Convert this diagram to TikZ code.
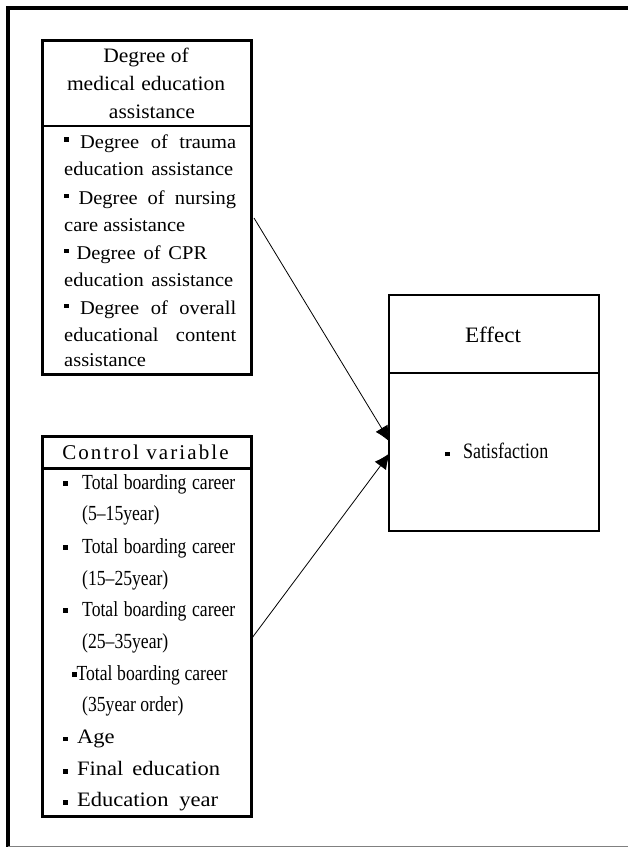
\documentclass[tikz,border=0pt]{standalone}
\usepackage{fontspec}
\setmainfont{Liberation Serif}
\newfontfamily\condfont[FakeStretch=0.82]{Liberation Serif}
\newfontfamily\wideA[FakeStretch=1.05]{Liberation Serif}
\newfontfamily\wideB[FakeStretch=1.1]{Liberation Serif}
\newfontfamily\spacedfont[LetterSpace=10]{Liberation Serif}
\usetikzlibrary{arrows.meta}
\newcommand\bul[1]{\rule[#1]{4.4pt}{4.4pt}}
\newcommand\J[2]{\makebox[#1pt][s]{#2}}
\tikzset{
  txt/.style={anchor=base west, inner sep=0pt, font=\fontsize{19.5}{24}\selectfont\wideA},
  hdr/.style={anchor=base, inner sep=0pt, font=\fontsize{20.5}{26}\selectfont\wideA},
  ctxt/.style={anchor=base west, inner sep=0pt, font=\fontsize{21.5}{26}\selectfont\condfont},
  ntxt/.style={anchor=base west, inner sep=0pt, font=\fontsize{20.5}{26}\selectfont\wideB},
  box/.style={draw, line width=3pt, inner sep=0pt, anchor=north west},
  arr/.style={line width=0.8pt, -{Latex[length=16pt,width=14pt]}}
}
\begin{document}
\begin{tikzpicture}[x=1pt,y=-1pt]
\useasboundingbox (0,0) rectangle (628,847);
\fill[white] (0,0) rectangle (628,847);
% outer frame
\draw[line width=4pt] (8,847) -- (8,8) -- (628,8);
\draw[gray, line width=1pt] (8,846) -- (628,846);

% box 1
\node[box, minimum width=209pt, minimum height=334pt] (b1) at (41,39) {};
\coordinate (b1dl) at (41,126);
\coordinate (b1dr) at (250,126);
\draw[line width=2.2pt] (b1dl) -- (b1dr);
\node[hdr] (h1a) at (146,62) {Degree of};
\node[hdr] (h1b) at (146,90) {\J{158}{medical education}};
\node[hdr] (h1c) at (152,118) {assistance};
\node[txt] (t1) at (64,148.3) {\J{172}{\bul{6.6pt}\ Degree of trauma}};
\node[txt] (t2) at (64,175.5) {\J{169}{education assistance}};
\node[txt] (t3) at (64,204.5) {\J{172}{\bul{6.6pt}\ Degree of nursing}};
\node[txt] (t4) at (64,231.5) {care assistance};
\node[txt] (t5) at (64,259.5) {\J{143}{\bul{6.6pt}\ Degree of CPR}};
\node[txt] (t6) at (64,286.5) {\J{169}{education assistance}};
\node[txt] (t7) at (64,314.5) {\J{172}{\bul{6.6pt}\ Degree of overall}};
\node[txt] (t8) at (64,341.5) {\J{172}{educational content}};
\node[txt] (t9) at (64,366.5) {assistance};

% box 2
\node[box, minimum width=209pt, minimum height=380pt] (b2) at (41,435) {};
\coordinate (b2dl) at (41,468);
\coordinate (b2dr) at (250,468);
\draw[line width=3pt] (b2dl) -- (b2dr);
\node[anchor=base, inner sep=0pt, font=\fontsize{21}{25}\selectfont\spacedfont] (h2) at (145.5,459) {Control variable};
\node[ctxt] (c1) at (63,489) {\bul{3.3pt}\hspace{14.6pt}\J{153}{Total boarding career}};
\node[ctxt] (c1b) at (82,520) {(5–15year)};
\node[ctxt] (c2) at (63,553) {\bul{3.3pt}\hspace{14.6pt}\J{153}{Total boarding career}};
\node[ctxt] (c2b) at (82,585) {(15–25year)};
\node[ctxt] (c3) at (63,616) {\bul{3.3pt}\hspace{14.6pt}\J{153}{Total boarding career}};
\node[ctxt] (c3b) at (82,648) {(25–35year)};
\node[ctxt] (c4) at (72,680) {\bul{3.3pt}\J{151}{Total boarding career}};
\node[ctxt] (c4b) at (82,711) {(35year order)};
\node[ntxt] (c5) at (63,743) {\bul{2pt}\hspace{9.5pt}Age};
\node[ntxt] (c6) at (63,775) {\bul{1.5pt}\hspace{9.5pt}\J{143}{Final education}};
\node[ntxt] (c7) at (63,806) {\bul{1.5pt}\hspace{9.5pt}\J{141}{Education year}};

% effect box
\node[box, line width=2.2pt, minimum width=210pt, minimum height=236pt] (eff) at (388,294) {};
\coordinate (effdl) at (388,373);
\coordinate (effdr) at (598,373);
\draw[line width=2.2pt] (effdl) -- (effdr);
\node[anchor=base, inner sep=0pt, font=\fontsize{22}{26}\selectfont\wideA] (effh) at (493,342) {Effect};
\node[anchor=base west, inner sep=0pt, font=\fontsize{22}{26}\selectfont\condfont] (sat) at (445,458) {\bul{2pt}\hspace{13.5pt}Satisfaction};

% arrows
\coordinate (a1s) at (254,218);
\coordinate (a1e) at (390,442);
\coordinate (a2s) at (252,638);
\coordinate (a2e) at (390,453);
\draw[arr] (a1s) -- (a1e);
\draw[arr] (a2s) -- (a2e);
\end{tikzpicture}
\end{document}
